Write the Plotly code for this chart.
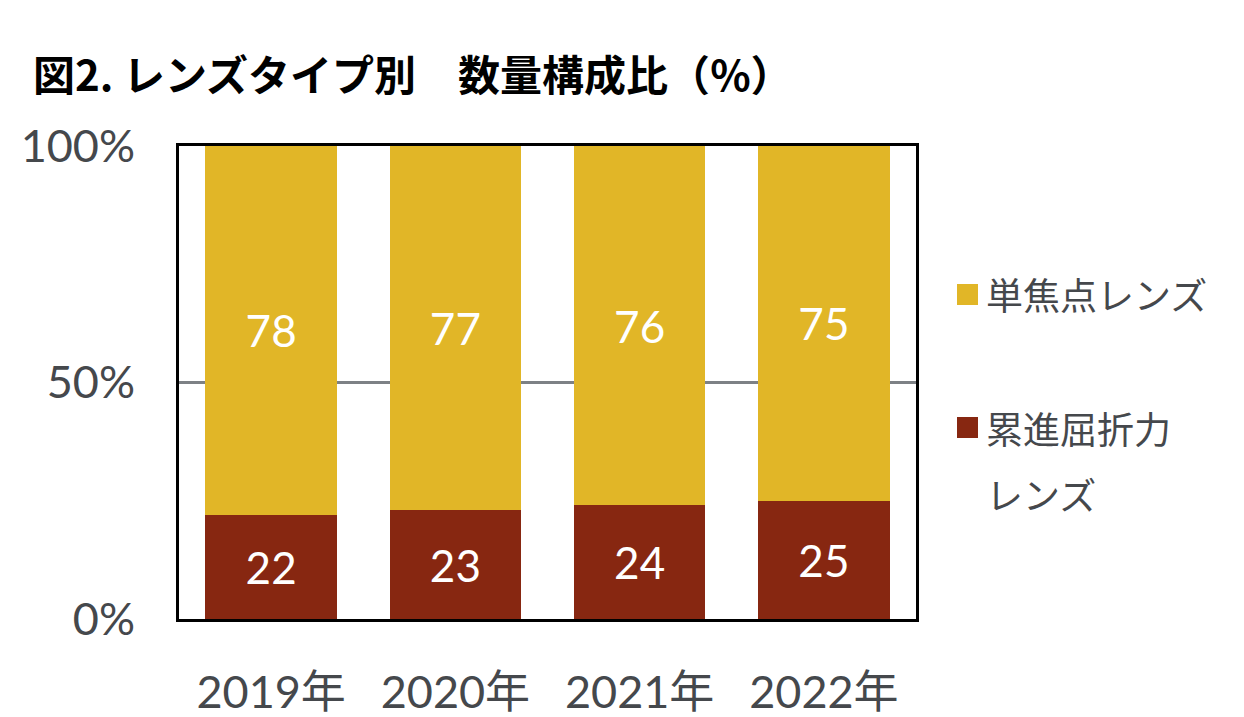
import plotly.graph_objects as go

years = ["2019年", "2020年", "2021年", "2022年"]
progressive = [22, 23, 24, 25]
single = [78, 77, 76, 75]
series_names = ["単焦点レンズ", "累進屈折力<br>レンズ"]
y_ticks = [0, 50, 100]
y_tick_labels = ["0%", "50%", "100%"]
title_text = "図2. レンズタイプ別　数量構成比（%）"

YELLOW = "#E1B627"
RED = "#872711"
TEXT = "#45484c"
FONT = "Lato, 'Noto Sans CJK JP', sans-serif"

OFF = 7  # page body margin offset
L, T, PW, PH = 178 - OFF, 145 - OFF, 737, 473

fig = go.Figure()
fig.add_trace(go.Bar(
    x=years, y=progressive, name=series_names[1], marker=dict(color=RED, line=dict(width=0)),
    text=[str(v) for v in progressive], textposition="inside", insidetextanchor="middle",
    textfont=dict(color="white", size=44, family=FONT), showlegend=False,
))
fig.add_trace(go.Bar(
    x=years, y=single, name=series_names[0], marker=dict(color=YELLOW, line=dict(width=0)),
    text=[str(v) for v in single], textposition="inside", insidetextanchor="middle",
    textfont=dict(color="white", size=44, family=FONT), showlegend=False,
))

fig.update_layout(
    width=1244, height=717,
    barmode="stack", bargap=0.285,
    margin=dict(l=L, r=1244 - L - PW, t=T, b=717 - T - PH, autoexpand=False),
    paper_bgcolor="white", plot_bgcolor="white",
    font=dict(family=FONT, color=TEXT),
)
fig.update_yaxes(
    range=[0, 100], tickvals=y_ticks, ticktext=y_tick_labels,
    tickfont=dict(size=45, color=TEXT, family=FONT),
    showgrid=True, gridcolor="#7d8185", gridwidth=3,
    showline=True, linecolor="black", linewidth=3, mirror=True,
    zeroline=False, ticks="", ticklabelstandoff=32,
)
fig.update_xaxes(
    tickfont=dict(size=45, color=TEXT, family=FONT),
    showline=True, linecolor="black", linewidth=3, mirror=True,
    ticks="", ticklabelstandoff=32,
)

def px_x(px):
    return (px - OFF - L) / PW
def px_y(py):
    return (T + PH - (py - OFF)) / PH

# title
fig.add_annotation(
    text="<b>" + title_text + "</b>", xref="paper", yref="paper",
    x=px_x(30), y=px_y(71), xanchor="left", yanchor="middle",
    showarrow=False, font=dict(size=42, color="black", family="'Noto Sans CJK JP', sans-serif"),
)

# manual legend
legend_items = [
    (YELLOW, [series_names[0]], 283, [293]),
    (RED, series_names[1].split("<br>"), 416, [427, 493]),
]
for color, lines, sq_top, line_ys in legend_items:
    fig.add_shape(type="rect", xref="paper", yref="paper",
                  x0=px_x(956), x1=px_x(977), y0=px_y(sq_top + 21), y1=px_y(sq_top),
                  fillcolor=color, line=dict(width=0))
    for ln, ly in zip(lines, line_ys):
        fig.add_annotation(text=ln, xref="paper", yref="paper",
                           x=px_x(983), y=px_y(ly), xanchor="left", yanchor="middle",
                           showarrow=False,
                           font=dict(size=37, color=TEXT, family="'Noto Sans CJK JP', sans-serif"))

fig.write_html("out.html")
